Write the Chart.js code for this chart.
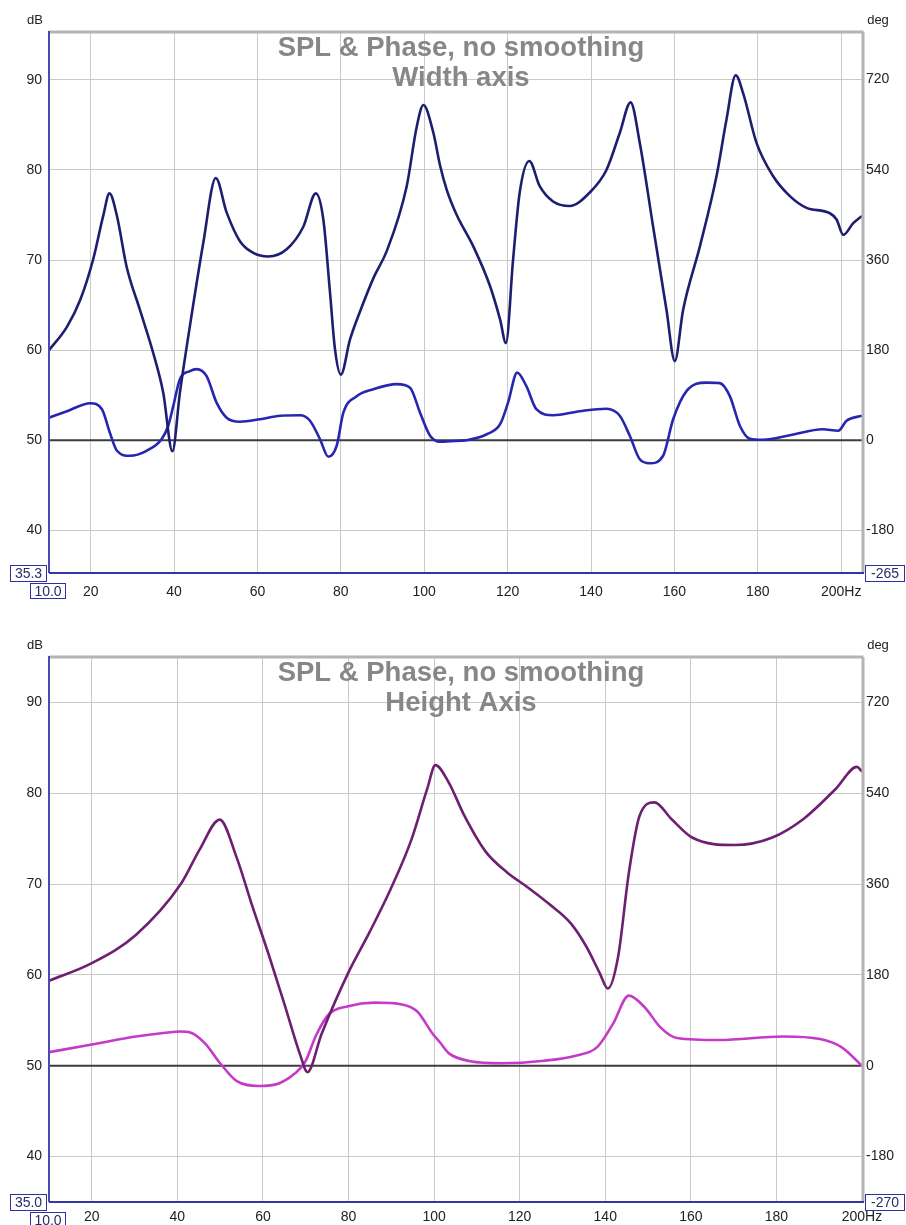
<!DOCTYPE html>
<html><head><meta charset="utf-8">
<script src="https://cdn.jsdelivr.net/npm/chart.js@4.4.1/dist/chart.umd.min.js"></script>
<style>
html,body{margin:0;padding:0;background:#fff;}
#wrap{position:relative;width:906px;height:1225px;overflow:hidden;background:#fff;}
.c{position:absolute;left:0;width:906px;height:605px;}
</style></head>
<body><div id="wrap">
<div class="c" style="top:0"><canvas id="c1" width="906" height="605"></canvas></div>
<div class="c" style="top:620px"><canvas id="c2" width="906" height="605"></canvas></div>
</div>
<script>
// ---------- DATA ----------
const xTicks = [20, 40, 60, 80, 100, 120, 140, 160, 180, 200];
const dbTicks = [40, 50, 60, 70, 80, 90];
const degTicks = [-180, 0, 180, 360, 540, 720];

// Width axis (top)
const widthSplFreq = [10,14.3,17.5,20.6,23,24.5,26.3,28.6,31.8,35,37.4,39.6,41.4,43.8,47,50,52.6,55.8,59,62.6,67,71,74,75.8,77.4,78.6,80,82.2,84.6,88,91,95.8,98.2,99.8,102.2,103.8,105.4,107.8,111.8,115.8,118.2,119.6,121.3,122.9,125.2,127.7,130.9,134.9,139.7,143.7,146.9,149.5,151.7,154.9,158.1,160.1,162.1,166.1,170.1,172.5,174.7,176.5,179.7,183.7,187.7,191.7,197.3,198.9,200.5,202.9,205];
const widthSplDb   = [60.0,62.6,65.6,70.1,74.9,77.4,74.9,69.3,64.5,59.7,55.3,48.8,55.3,62.7,71.9,79.1,75.3,72.1,70.8,70.4,71.2,73.7,77.4,74.5,66.4,60.1,57.3,61.2,64.3,68.2,71.0,78.2,84.8,87.2,84.1,80.5,77.8,75.0,71.5,67.1,63.4,60.8,70.0,77.5,81.0,78.2,76.5,76.0,77.5,80.0,84.1,87.5,83.0,73.7,64.5,58.8,64.5,71.5,79.3,85.6,90.5,88.5,83.0,79.3,77.1,75.8,75.2,74.5,72.8,74.1,74.9];
const widthPhaseFreq = [10,14.3,19.9,22.7,24.6,26.3,29.4,33.4,37,38.6,39.8,41.4,43.8,45.4,47.8,50.2,52.6,55.8,60.6,65.4,70.2,72.6,75,77,79,80.6,83.8,87.8,93.4,96.6,99,101.4,103.8,108.6,110.2,115,118.2,120.1,122.3,124.5,126.9,130.9,137.3,143.7,146.9,149.3,151.7,154.1,157.3,159.7,162.9,167.7,170.9,173.3,175.7,178.1,181.3,187.7,195.6,199.3,201.3,205];
const widthPhaseDeg  = [45,58,74,62,15,-21,-31,-21,2,29,68,122,138,142,128,75,45,37,42,49,50,39,2,-33,-11,55,88,102,112,105,55,9,-3,-1,0,12,32,75,135,108,62,50,58,63,49,9,-38,-46,-31,42,98,115,114,88,29,3,1,10,22,19,39,49];

// Height axis (bottom)
const heightSplFreq = [10,20,30.3,40.8,45.2,49.9,53.8,57.5,61.3,65,68.7,70.4,73.7,79.9,84.8,89.8,94.7,98.4,100.3,103.4,107.1,112,117,122,126.9,131.9,135.6,138.7,140.6,143,145.5,148,151.5,155.4,160.4,170.3,178.9,186.4,193.9,198.8,200];
const heightSplDb   = [59.35,61.3,64.4,70.0,73.8,77.1,73.0,67.6,62.3,56.8,51.2,49.3,53.5,60.2,64.6,69.4,74.9,80.5,83.1,81.2,77.5,73.6,71.3,69.6,67.8,65.7,63.1,60.2,58.5,62.0,71.2,77.5,79.0,77.2,75.1,74.3,75.1,77.2,80.5,82.9,82.4];
const heightPhaseFreq = [10,20,30.3,37.7,40.6,43,46.4,50,53.8,59,63.7,67.5,69.9,72.4,75.5,79.9,86,92.2,96,99.7,101.4,103.4,108.4,115.8,125.7,133.1,138.1,141.8,145.5,149.2,152.9,156.7,166.6,181.5,190.2,195.2,200];
const heightPhaseDeg  = [27,42,58,66,68,66,45,5,-30,-40,-35,-15,8,60,103,118,125,122,108,63,46,25,9,5,10,20,37,83,139,116,76,55,51,58,53,37,0];

// ---------- CHART BUILDER ----------
const FONT = "'Liberation Sans', Arial, sans-serif";

function decorPlugin(o) {
  return {
    id: 'decor',
    beforeDatasetsDraw(chart) {
      const a = chart.chartArea, ctx = chart.ctx;
      const y0 = chart.scales.y1.getPixelForValue(0);
      ctx.save();
      ctx.strokeStyle = '#3c3c3c';
      ctx.lineWidth = 2.2;
      ctx.beginPath(); ctx.moveTo(a.left, y0); ctx.lineTo(a.right, y0); ctx.stroke();
      ctx.restore();
    },
    afterDraw(chart) {
      const a = chart.chartArea, ctx = chart.ctx;
      ctx.save();
      // frame
      ctx.lineWidth = 3;
      ctx.strokeStyle = '#b4b4b4';
      ctx.beginPath(); ctx.moveTo(a.left, a.top); ctx.lineTo(a.right + 1.5, a.top); ctx.stroke();
      ctx.beginPath(); ctx.moveTo(a.right + 1, a.top); ctx.lineTo(a.right + 1, a.bottom); ctx.stroke();
      ctx.lineWidth = 2;
      ctx.strokeStyle = '#4a4ab4';
      ctx.beginPath(); ctx.moveTo(a.left, a.top - 1); ctx.lineTo(a.left, a.bottom); ctx.stroke();
      ctx.strokeStyle = '#3535a8';
      ctx.beginPath(); ctx.moveTo(a.left, a.bottom); ctx.lineTo(a.right + 2, a.bottom); ctx.stroke();
      // title
      ctx.fillStyle = '#878787';
      ctx.font = 'bold 27.5px ' + FONT;
      ctx.textAlign = 'center';
      ctx.textBaseline = 'alphabetic';
      ctx.fillText(o.title1, 461, a.top + 24);
      ctx.fillText(o.title2, 461, a.top + 54);
      // unit labels
      ctx.fillStyle = '#222';
      ctx.font = '13px ' + FONT;
      ctx.fillText('dB', 35, a.top - 8);
      ctx.fillText('deg', 878, a.top - 8);
      // boxed limit labels
      ctx.font = '14px ' + FONT;
      const box = (txt, x1, y1, x2, y2) => {
        ctx.fillStyle = '#fff';
        ctx.fillRect(x1, y1, x2 - x1, y2 - y1);
        ctx.strokeStyle = '#3030a0';
        ctx.lineWidth = 1;
        ctx.strokeRect(x1 + 0.5, y1 + 0.5, x2 - x1 - 1, y2 - y1 - 1);
        ctx.fillStyle = '#2a2a6a';
        ctx.textBaseline = 'middle';
        ctx.textAlign = 'center';
        ctx.fillText(txt, (x1 + x2) / 2, (y1 + y2) / 2 + 1);
      };
      box(o.dbMinLabel, 10, a.bottom - 8, 47, a.bottom + 9);
      box(o.degMinLabel, 865, a.bottom - 8, 905, a.bottom + 9);
      box('10.0', 30, a.bottom + 10, 66, a.bottom + 26);
      ctx.restore();
    }
  };
}

function makeChart(id, o) {
  const H = 605;
  const fixed = (v) => (s) => { s.ticks = v.map(t => ({ value: t })); };
  return new Chart(document.getElementById(id), {
    type: 'line',
    data: {
      datasets: [
        {
          label: 'SPL',
          data: o.splFreq.map((f, i) => ({ x: f, y: o.splDb[i] })),
          yAxisID: 'y',
          borderColor: o.splColor,
          borderWidth: 2.6,
          pointRadius: 0,
          cubicInterpolationMode: 'monotone',
          fill: false
        },
        {
          label: 'Phase',
          data: o.phFreq.map((f, i) => ({ x: f, y: o.phDeg[i] })),
          yAxisID: 'y1',
          borderColor: o.phColor,
          borderWidth: 2.6,
          pointRadius: 0,
          cubicInterpolationMode: 'monotone',
          fill: false
        }
      ]
    },
    options: {
      responsive: false,
      animation: false,
      events: [],
      layout: { padding: { top: o.plotTop, left: 0, right: 0, bottom: 0 } },
      plugins: { legend: { display: false }, tooltip: { enabled: false }, title: { display: false } },
      scales: {
        x: {
          type: 'linear', min: 10, max: o.xMax,
          afterBuildTicks: fixed(xTicks),
          afterFit: (s) => { s.height = H - o.plotBottom; },
          grid: { color: '#c9c9c9', lineWidth: 1, drawTicks: false },
          border: { display: false },
          ticks: {
            padding: o.xPad, color: '#222', font: { family: FONT, size: 14 },
            maxRotation: 0, autoSkip: false,
            callback: (v) => v === 200 ? '200Hz' : String(v)
          }
        },
        y: {
          type: 'linear', position: 'left', min: o.dbMin, max: o.dbMax,
          afterBuildTicks: fixed(dbTicks),
          afterFit: (s) => { s.width = 49; },
          grid: { color: '#c9c9c9', lineWidth: 1, drawTicks: false },
          border: { display: false },
          ticks: { padding: 7, color: '#222', font: { family: FONT, size: 14 } }
        },
        y1: {
          type: 'linear', position: 'right', min: o.degMin, max: o.degMax,
          afterBuildTicks: fixed(degTicks),
          afterFit: (s) => { s.width = 44; },
          grid: { display: false, drawTicks: false },
          border: { display: false },
          ticks: { padding: 4, color: '#222', font: { family: FONT, size: 14 } }
        }
      }
    },
    plugins: [decorPlugin(o)]
  });
}

makeChart('c1', {
  splFreq: widthSplFreq, splDb: widthSplDb, phFreq: widthPhaseFreq, phDeg: widthPhaseDeg,
  splColor: '#1e1e70', phColor: '#2626b0',
  xMax: 205, dbMin: 35.3, dbMax: 95.3, degMin: -265, degMax: 815,
  plotTop: 32, plotBottom: 573, xPad: 11,
  title1: 'SPL & Phase, no smoothing', title2: 'Width axis',
  dbMinLabel: '35.3', degMinLabel: '-265'
});
makeChart('c2', {
  splFreq: heightSplFreq, splDb: heightSplDb, phFreq: heightPhaseFreq, phDeg: heightPhaseDeg,
  splColor: '#6e1f72', phColor: '#c53ac8',
  xMax: 200, dbMin: 35, dbMax: 95, degMin: -270, degMax: 810,
  plotTop: 37, plotBottom: 582, xPad: 7,
  title1: 'SPL & Phase, no smoothing', title2: 'Height Axis',
  dbMinLabel: '35.0', degMinLabel: '-270'
});
</script>
</body></html>
